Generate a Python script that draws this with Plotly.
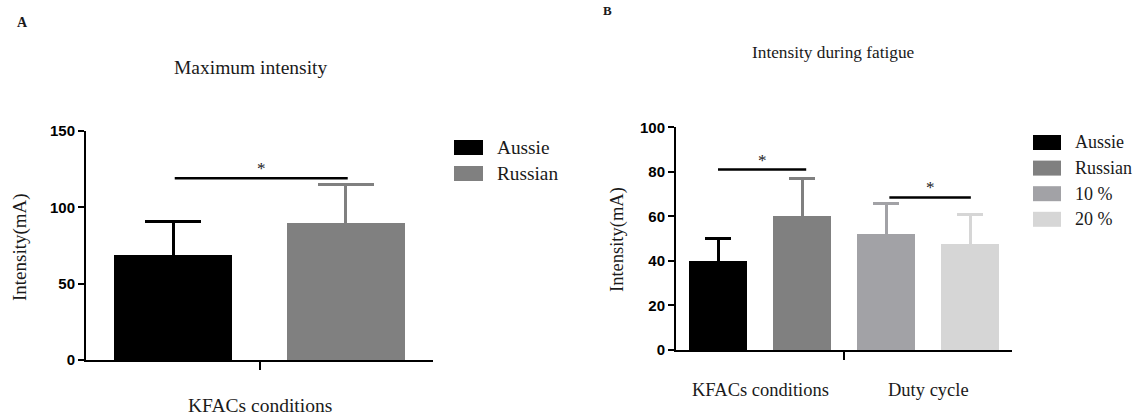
import plotly.graph_objects as go

# ---- data -------------------------------------------------------------
# Panel A: maximum intensity (mean and SD, mA)
a_series = ["Aussie", "Russian"]
a_mean = [69, 90]
a_sd = [22, 25]
a_colors = ["#000000", "#808080"]
a_group = "KFACs conditions"
a_ticks = [0, 50, 100, 150]
a_sig = [(0.01, 1.01, 119)]          # (x0, x1, y) of the significance bar

# Panel B: intensity during fatigue
b_series = ["Aussie", "Russian", "10 %", "20 %"]
b_mean = [40, 60, 52, 47.5]
b_sd = [10, 17, 14, 13.5]
b_colors = ["#000000", "#808080", "#a2a2a6", "#d6d6d6"]
b_groups = ["KFACs conditions", "Duty cycle"]
b_group_pos = [0.5, 2.5]
b_ticks = [0, 20, 40, 60, 80, 100]
b_sig = [(0.0, 1.05, 81), (2.04, 3.01, 68.5)]

W, H = 1136, 416
SERIF = "Liberation Serif"
SANS = "Liberation Sans"
TXT = "#1a1a1a"


def px(x):
    return x / W


def py(y):
    return 1 - y / H


fig = go.Figure()

# ---- bars (SD bars share the bar colour, so the lower half is hidden) ---
for i, (name, m, sd, c) in enumerate(zip(a_series, a_mean, a_sd, a_colors)):
    fig.add_trace(go.Bar(
        x=[i], y=[m], width=0.68, name=name, marker=dict(color=c, line=dict(width=0)),
        error_y=dict(type="data", array=[sd], symmetric=True,
                     color=c, thickness=3, width=28),
        xaxis="x", yaxis="y", showlegend=False))

for i, (name, m, sd, c) in enumerate(zip(b_series, b_mean, b_sd, b_colors)):
    fig.add_trace(go.Bar(
        x=[i], y=[m], width=0.69, name=name, marker=dict(color=c, line=dict(width=0)),
        error_y=dict(type="data", array=[sd], symmetric=True,
                     color=c, thickness=3, width=13),
        xaxis="x2", yaxis="y2", showlegend=False))

# ---- axes -------------------------------------------------------------
common_y = dict(showgrid=False, zeroline=False, showline=True, linecolor="black",
                linewidth=2, ticks="outside", ticklen=6, tickwidth=2, tickcolor="black",
                automargin=False,
                tickfont=dict(family=SANS, size=15, color="black", weight="bold"))
common_x = dict(showgrid=False, zeroline=False, showline=True, linecolor="black",
                linewidth=2, ticks="outside", ticklen=8, tickwidth=2, tickcolor="black",
                automargin=False, showticklabels=False)

fig.update_layout(
    template="none",
    width=W, height=H, margin=dict(l=0, r=0, t=0, b=0, pad=0, autoexpand=False),
    paper_bgcolor="white", plot_bgcolor="white", bargap=0,
    xaxis=dict(common_x, domain=[px(86), px(433)], range=[-0.503, 1.503],
               tickvals=[0.5], anchor="y"),
    yaxis=dict(common_y, domain=[py(360), py(131)], range=[0, 150],
               tickvals=a_ticks, anchor="x"),
    xaxis2=dict(common_x, domain=[px(676), px(1012)], range=[-0.5, 3.5],
                tickvals=[1.5], anchor="y2"),
    yaxis2=dict(common_y, domain=[py(350), py(127.3)], range=[0, 100],
                tickvals=b_ticks, anchor="x2"),
)

# ---- significance bars ------------------------------------------------
for (x0, x1, y), xr, yr in [(s, "x", "y") for s in a_sig] + \
                           [(s, "x2", "y2") for s in b_sig]:
    fig.add_shape(type="line", xref=xr, yref=yr, x0=x0, x1=x1, y0=y, y1=y,
                  line=dict(color="black", width=2.5))
    fig.add_annotation(xref=xr, yref=yr, x=(x0 + x1) / 2, y=y, text="*",
                       showarrow=False, xanchor="center", yanchor="bottom", yshift=-2,
                       font=dict(family=SERIF, size=17, color=TXT))

annots = []


def label(text, x, y, size, xanchor="center", **kw):
    annots.append(dict(text=text, xref="paper", yref="paper", x=px(x), y=py(y),
                       showarrow=False, xanchor=xanchor, yanchor="middle",
                       font=dict(family=SERIF, size=size, color=TXT), **kw))


# titles and panel letters
label("<b>A</b>", 22, 22, 14)
label("<b>B</b>", 607, 10, 13)
label("Maximum intensity", 251, 67, 19.5)
label("Intensity during fatigue", 833, 52, 17.3)

# axis titles
label("Intensity(mA)", 20, 247, 19, textangle=-90)
label("Intensity(mA)", 618, 240, 18.5, textangle=-90)

# group labels under the x axes
fig.add_annotation(xref="x", yref="paper", x=0.5, y=py(405), text=a_group,
                   showarrow=False, xanchor="center", yanchor="middle",
                   font=dict(family=SERIF, size=19.5, color=TXT))
for g, gx in zip(b_groups, b_group_pos):
    fig.add_annotation(xref="x2", yref="paper", x=gx, y=py(390), text=g,
                       showarrow=False, xanchor="center", yanchor="middle",
                       font=dict(family=SERIF, size=18.5, color=TXT))

# legends
for i, (name, c) in enumerate(zip(a_series, a_colors)):
    top = 140 + i * 26
    fig.add_shape(type="rect", xref="paper", yref="paper", x0=px(454), x1=px(483),
                  y0=py(top), y1=py(top + 15), fillcolor=c, line=dict(width=0))
    label(name, 495, top + 7.5, 19.3, xanchor="left")

for i, (name, c) in enumerate(zip(b_series, b_colors)):
    top = 135 + i * 25.6
    fig.add_shape(type="rect", xref="paper", yref="paper", x0=px(1033), x1=px(1061),
                  y0=py(top), y1=py(top + 15), fillcolor=c, line=dict(width=0))
    label(name, 1073, top + 7.5, 18, xanchor="left")

for a in annots:
    fig.add_annotation(**a)

fig.write_html("out.html")
